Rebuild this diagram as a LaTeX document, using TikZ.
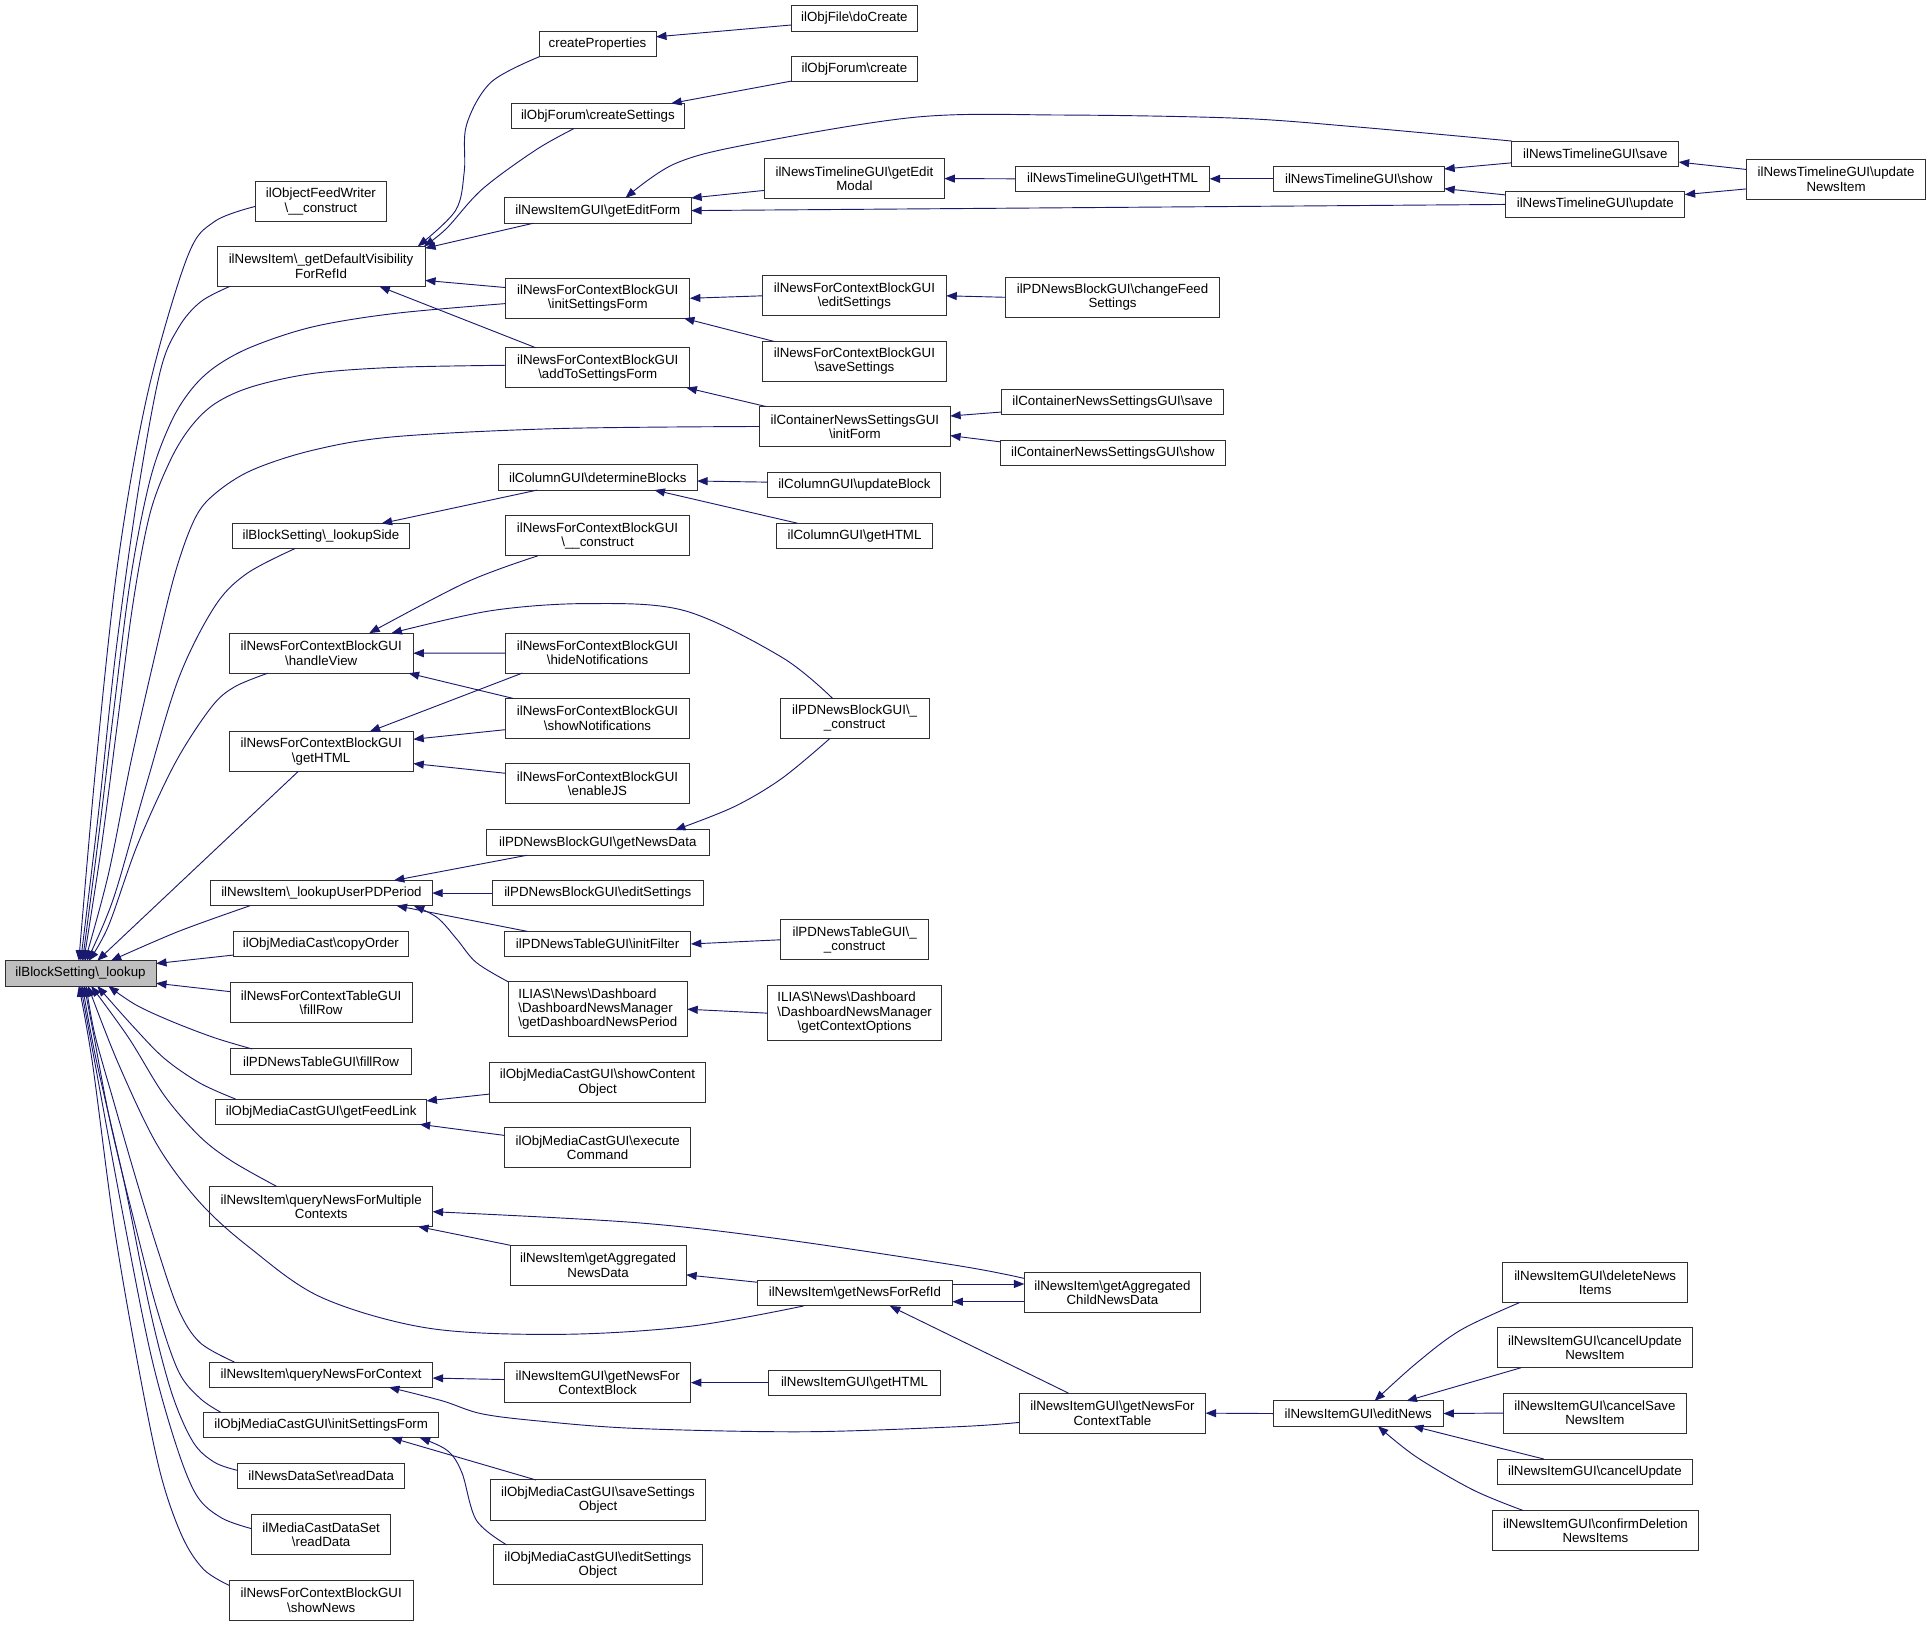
\documentclass[tikz,border=0pt]{standalone}
\usepackage{fontspec}
\newfontfamily\lsans{Liberation Sans}
\usetikzlibrary{arrows.meta}
\definecolor{mblue}{HTML}{191970}
\definecolor{rootgray}{HTML}{BFBFBF}
\definecolor{bordergray}{HTML}{303030}
\newcommand{\BS}{\textbackslash{}}
\begin{document}
\begin{tikzpicture}[x=1pt,y=-1pt,
  nd/.style={draw=bordergray, line width=0.8pt, fill=white, rectangle, inner xsep=1pt, inner ysep=0pt, outer sep=0pt, align=center, font=\lsans\fontsize{10.8}{11.6}\selectfont, text=black},
  La/.style={minimum height=20.5pt},
  Lb/.style={minimum height=32.5pt},
  Lc/.style={minimum height=44.5pt},
  e/.style={draw=mblue, line width=0.75pt, -{Triangle[length=8.5pt,width=6.5pt]}},
  sm/.style={smooth, tension=0.55}]
\useasboundingbox (0,0) rectangle (1568,1320);

% ---- nodes ----
\node[nd,La,minimum width=122.6,fill=rootgray] (root) at (65.4,790.4) {ilBlockSetting\BS\_lookup};

\node[nd,Lb,minimum width=106.5] (n1) at (260.6,163.6) {ilObjectFeedWriter\\\BS\_\_construct};
\node[nd,Lb,minimum width=169] (n2) at (260.7,216.3) {ilNewsItem\BS\_getDefaultVisibility\\ForRefId};
\node[nd,La,minimum width=143.6] (n3) at (260.6,435.3) {ilBlockSetting\BS\_lookupSide};
\node[nd,Lb,minimum width=149.6] (n4) at (260.8,530.4) {ilNewsForContextBlockGUI\\\BS handleView};
\node[nd,Lb,minimum width=149.6] (n5) at (260.8,610.3) {ilNewsForContextBlockGUI\\\BS getHTML};
\node[nd,La,minimum width=180] (n6) at (261,725.2) {ilNewsItem\BS\_lookupUserPDPeriod};
\node[nd,La,minimum width=142] (n7) at (260.6,766.5) {ilObjMediaCast\BS copyOrder};
\node[nd,Lb,minimum width=148] (n8) at (260.8,814.2) {ilNewsForContextTableGUI\\\BS fillRow};
\node[nd,La,minimum width=147] (n9) at (260.7,862) {ilPDNewsTableGUI\BS fillRow};
\node[nd,La,minimum width=171] (n10) at (260.8,902.7) {ilObjMediaCastGUI\BS getFeedLink};
\node[nd,Lb,minimum width=181] (n11) at (260.8,979.7) {ilNewsItem\BS queryNewsForMultiple\\Contexts};
\node[nd,La,minimum width=181] (n12) at (260.8,1116.2) {ilNewsItem\BS queryNewsForContext};
\node[nd,La,minimum width=190.5] (n13) at (260.8,1157.2) {ilObjMediaCastGUI\BS initSettingsForm};
\node[nd,La,minimum width=135.5] (n14) at (260.8,1198.4) {ilNewsDataSet\BS readData};
\node[nd,Lb,minimum width=113] (n15) at (260.8,1246.3) {ilMediaCastDataSet\\\BS readData};
\node[nd,Lb,minimum width=149.6] (n16) at (260.8,1299.3) {ilNewsForContextBlockGUI\\\BS showNews};

\node[nd,La,minimum width=95] (c1) at (485.2,35.5) {createProperties};
\node[nd,La,minimum width=141] (c2) at (485.5,94.2) {ilObjForum\BS createSettings};
\node[nd,La,minimum width=151.5] (c3) at (485.5,171) {ilNewsItemGUI\BS getEditForm};
\node[nd,Lb,minimum width=149.6] (c4) at (485.4,242.2) {ilNewsForContextBlockGUI\\\BS initSettingsForm};
\node[nd,Lb,minimum width=149.6] (c5) at (485.4,298.6) {ilNewsForContextBlockGUI\\\BS addToSettingsForm};
\node[nd,La,minimum width=161.3] (c6) at (485.4,387.7) {ilColumnGUI\BS determineBlocks};
\node[nd,Lb,minimum width=149.6] (c7) at (485.2,435.1) {ilNewsForContextBlockGUI\\\BS\_\_construct};
\node[nd,Lb,minimum width=149.6] (c8) at (485.2,530.3) {ilNewsForContextBlockGUI\\\BS hideNotifications};
\node[nd,Lb,minimum width=149.6] (c9) at (485.2,583.3) {ilNewsForContextBlockGUI\\\BS showNotifications};
\node[nd,Lb,minimum width=149.6] (c10) at (485.2,636.4) {ilNewsForContextBlockGUI\\\BS enableJS};
\node[nd,La,minimum width=180.7] (c11) at (485.4,684.2) {ilPDNewsBlockGUI\BS getNewsData};
\node[nd,La,minimum width=171.3] (c12) at (485.4,725.2) {ilPDNewsBlockGUI\BS editSettings};
\node[nd,La,minimum width=151.4] (c13) at (485.3,766.5) {ilPDNewsTableGUI\BS initFilter};
\node[nd,Lc,minimum width=145.3,align=left] (c14) at (485.4,819.5) {ILIAS\BS News\BS Dashboard\\\BS DashboardNewsManager\\\BS getDashboardNewsPeriod};
\node[nd,Lb,minimum width=175.6] (c15) at (485.2,879.1) {ilObjMediaCastGUI\BS showContent\\Object};
\node[nd,Lb,minimum width=150.7] (c16) at (485.3,932) {ilObjMediaCastGUI\BS execute\\Command};
\node[nd,Lb,minimum width=143] (c17) at (485.7,1027.4) {ilNewsItem\BS getAggregated\\NewsData};
\node[nd,Lb,minimum width=151.4] (c18) at (485.3,1122.7) {ilNewsItemGUI\BS getNewsFor\\ContextBlock};
\node[nd,Lb,minimum width=174.8] (c19) at (485.6,1218) {ilObjMediaCastGUI\BS saveSettings\\Object};
\node[nd,Lb,minimum width=169.3] (c20) at (485.5,1270.7) {ilObjMediaCastGUI\BS editSettings\\Object};

\node[nd,La,minimum width=102.7] (d1) at (693.8,15) {ilObjFile\BS doCreate};
\node[nd,La,minimum width=102] (d2) at (693.8,56.3) {ilObjForum\BS create};
\node[nd,Lb,minimum width=146.1] (d3) at (693.8,145) {ilNewsTimelineGUI\BS getEdit\\Modal};
\node[nd,Lb,minimum width=149.2] (d4) at (693.8,240.2) {ilNewsForContextBlockGUI\\\BS editSettings};
\node[nd,Lb,minimum width=149.2] (d5) at (693.8,293.4) {ilNewsForContextBlockGUI\\\BS saveSettings};
\node[nd,Lb,minimum width=154.7] (d6) at (694.2,346.3) {ilContainerNewsSettingsGUI\\\BS initForm};
\node[nd,La,minimum width=140.5] (d7) at (693.8,394) {ilColumnGUI\BS updateBlock};
\node[nd,La,minimum width=126] (d8) at (693.9,435.1) {ilColumnGUI\BS getHTML};
\node[nd,Lb,minimum width=121] (d9) at (694,583.3) {ilPDNewsBlockGUI\BS\_\\\_construct};
\node[nd,Lb,minimum width=120] (d10) at (694,763.1) {ilPDNewsTableGUI\BS\_\\\_construct};
\node[nd,Lc,minimum width=141.3] (d11) at (694,822.7) {\begin{tabular}{@{}l@{}}ILIAS\BS News\BS Dashboard\\\BS DashboardNewsManager\\\multicolumn{1}{@{}c@{}}{\BS getContextOptions}\end{tabular}};
\node[nd,La,minimum width=158.3] (d12) at (694.2,1050.2) {ilNewsItem\BS getNewsForRefId};
\node[nd,La,minimum width=139] (d13) at (693.9,1122.7) {ilNewsItemGUI\BS getHTML};

\node[nd,La,minimum width=157.7] (e0) at (903.4,145.2) {ilNewsTimelineGUI\BS getHTML};
\node[nd,Lb,minimum width=143] (e1) at (903.3,1049.9) {ilNewsItem\BS getAggregated\\ChildNewsData};
\node[nd,Lb,minimum width=151.3] (e2) at (903.3,1147.5) {ilNewsItemGUI\BS getNewsFor\\ContextTable};
\node[nd,Lb,minimum width=174] (e3) at (903.4,241.4) {ilPDNewsBlockGUI\BS changeFeed\\Settings};
\node[nd,La,minimum width=180.8] (e4) at (903.4,326.6) {ilContainerNewsSettingsGUI\BS save};
\node[nd,La,minimum width=183] (e5) at (903.6,368) {ilContainerNewsSettingsGUI\BS show};

\node[nd,La,minimum width=138.8] (f0) at (1103.3,145.2) {ilNewsTimelineGUI\BS show};
\node[nd,La,minimum width=138.2] (f1) at (1102.9,1147.8) {ilNewsItemGUI\BS editNews};

\node[nd,Lb,minimum width=150] (g1) at (1295.3,1041.5) {ilNewsItemGUI\BS deleteNews\\Items};
\node[nd,Lb,minimum width=159] (g2) at (1295.1,1094.3) {ilNewsItemGUI\BS cancelUpdate\\NewsItem};
\node[nd,Lb,minimum width=148.6] (g3) at (1295.1,1147.4) {ilNewsItemGUI\BS cancelSave\\NewsItem};
\node[nd,La,minimum width=159] (g4) at (1295.1,1195) {ilNewsItemGUI\BS cancelUpdate};
\node[nd,Lb,minimum width=167.3] (g5) at (1295.5,1242.8) {ilNewsItemGUI\BS confirmDeletion\\NewsItems};
\node[nd,La,minimum width=135.4] (g6) at (1295.4,124.8) {ilNewsTimelineGUI\BS save};
\node[nd,La,minimum width=145.2] (g7) at (1295.4,166) {ilNewsTimelineGUI\BS update};
\node[nd,Lb,minimum width=145.6] (h1) at (1490.9,145.6) {ilNewsTimelineGUI\BS update\\NewsItem};

% ---- edges into root (upper bundle) ----
\draw[e] plot[sm] coordinates {([yshift=-4]n1.west) (174,180) (152,209) (120,319) (96,455) (78,620) ([xshift=59.9]root.north west)};
\draw[e] plot[sm] coordinates {([xshift=10.5]n2.south west) (163,245) (145,266) (130,302) (112,400) (94,530) (80,660) ([xshift=61.4]root.north west)};
\draw[e] plot[sm] coordinates {([yshift=-4.3]c4.west) (320.6,254.5) (254.4,265.3) (204.7,281.5) (174.8,297.8) (155,316.7) (138.4,343.8) (121.8,389.8) (106,470) (92,580) (80,680) ([xshift=62.9]root.north west)};
\draw[e] plot[sm] coordinates {([yshift=2]c5.west) (320.6,298.3) (254.4,303.2) (204.7,314) (174.8,327.6) (155,346.5) (138.4,373.6) (121.8,417) (108,490) (95,590) (82,690) ([xshift=63.9]root.north west)};
\draw[e] plot[sm] coordinates {(d6.west) (453,348) (320.6,354.6) (254.4,365.5) (204.7,381.7) (174.8,400.7) (158.3,421) (142,466) (124,540) (106,620) (88,710) ([xshift=64.9]root.north west)};
\draw[e] plot[sm] coordinates {([xshift=50.5]n3.south west) (200,466) (174,493) (145,551) (118,640) (92,730) ([xshift=66.4]root.north west)};
\draw[e] plot[sm] coordinates {([xshift=31.5]n4.south west) (190,558) (171,575) (142,620) (112,685) (88,752) ([xshift=67.9]root.north west)};
\draw[e] ([xshift=56]n5.south west) -- ([xshift=74.9]root.north west);
\draw[e] plot[sm] coordinates {([xshift=32]n6.south west) (145,756.3) ([xshift=85.9]root.north west)};
\draw[e] ([yshift=-9]n7.west) -- ([yshift=8]root.east);
\draw[e] ([yshift=9]n8.west) -- ([yshift=-8]root.east);

% ---- edges into root (lower bundle) ----
\draw[e] plot[sm] coordinates {([xshift=17.5]n9.north west) (174,842.6) (139.2,829.3) (110.2,815.9) ([xshift=83.9]root.south west)};
\draw[e] plot[sm] coordinates {([xshift=16]n10.north west) (162.4,879.5) (133.4,859.4) (107.3,832.6) ([xshift=74.9]root.south west)};
\draw[e] plot[sm] coordinates {([xshift=54.5]n11.north west) (188.5,943) (162.4,923) (133.4,889.5) (104.4,842.6) ([xshift=69.9]root.south west)};
\draw[e] plot[sm] coordinates {([xshift=37.4]d12.south west) (560,1077) (454.7,1083.5) (348,1078.5) (261,1053.5) (203,1013.3) (162.4,976.5) (127.6,929.6) (95.7,862.7) ([xshift=67.4]root.south west)};
\draw[e] plot[sm] coordinates {([xshift=20]n12.north west) (162.4,1090.2) (145,1063.5) (127.6,1013.3) (110.2,956.4) (92.8,896.2) (77,840) ([xshift=65.9]root.south west)};
\draw[e] plot[sm] coordinates {([xshift=14]n13.north west) (162.4,1135.4) (145,1113.7) (127.6,1063.5) (110.2,996.6) (89.9,912.9) (76,840) ([xshift=64.4]root.south west)};
\draw[e] plot[sm] coordinates {([yshift=4.4]n14.west) (174,1187.3) (156.6,1170.6) (139.2,1130.4) (121.8,1063.5) (101.5,963.1) (78,860) ([xshift=62.9]root.south west)};
\draw[e] plot[sm] coordinates {([yshift=5]n15.west) (179.8,1232.5) (159.5,1214) (142.1,1170.6) (121.8,1096.9) (98.6,979.8) (76.5,860) ([xshift=61.4]root.south west)};
\draw[e] plot[sm] coordinates {([yshift=12]n16.west) (165.3,1274.3) (147.9,1247.5) (130.5,1197.3) (113.1,1113.7) (92.8,996.6) (75,862.7) ([xshift=59.9]root.south west)};

% ---- top area ----
\draw[e] plot[sm] coordinates {([xshift=1]c1.south west) (398.8,66.7) (378.8,101.5) (377,139.2) (369.8,171.1) ([xshift=-6]n2.north east)};
\draw[e] plot[sm] coordinates {([xshift=51]c2.south west) (435,121.8) (391.5,153.7) (362.5,185.6) ([xshift=-1]n2.north east)};
\draw[e] ([xshift=23.4]c3.south west) -- ([yshift=-1.5]n2.north east);
\draw[e] ([yshift=8.7]c4.west) -- ([yshift=-11.4]n2.east);
\draw[e] ([xshift=24.4]c5.north west) -- ([xshift=47.4]n2.south);
\draw[e] ([yshift=-5.3]d1.west) -- ([yshift=5.6]c1.east);
\draw[e] ([yshift=-9.5]d2.west) -- ([xshift=-11]c2.north east);
\draw[e] plot[sm] coordinates {(g6.north west) (1101,103) (1005,96) (862,93.4) (744,95.1) (606,117.5) (547,133.4) ([xshift=22.4]c3.north)};
\draw[e] ([yshift=-9.6]d3.west) -- (c3.north east);
\draw[e] (g7.west) -- (c3.east);
\draw[e] (e0.west) -- (d3.east);
\draw[e] (f0.west) -- (e0.east);
\draw[e] ([yshift=-7.4]g6.west) -- ([yshift=8]f0.east);
\draw[e] ([yshift=7.7]g7.west) -- ([yshift=-8]f0.east);
\draw[e] ([yshift=8]h1.west) -- ([yshift=-6.8]g6.east);
\draw[e] ([yshift=-7.8]h1.west) -- ([yshift=8]g7.east);
\draw[e] (d4.west) -- (c4.east);
\draw[e] ([xshift=9]d5.north west) -- ([xshift=70]c4.south);
\draw[e] (e3.west) -- (d4.east);
\draw[e] ([xshift=5]d6.north west) -- ([xshift=72]c5.south);
\draw[e] ([yshift=-8]e4.west) -- ([yshift=8.5]d6.east);
\draw[e] ([yshift=-1]e5.north west) -- ([yshift=-7.4]d6.east);
\draw[e] ([xshift=31.5]c6.south west) -- ([xshift=49.3]n3.north);
\draw[e] ([yshift=2.5]d7.west) -- ([yshift=-2.9]c6.east);
\draw[e] ([xshift=16.6]d8.north west) -- ([xshift=46]c6.south);

% ---- middle area ----
\draw[e] plot[sm] coordinates {([xshift=26.3]c7.south west) (378.9,472.7) ([xshift=39]n4.north)};
\draw[e] plot[sm] coordinates {([xshift=-18]d9.north) (634.7,533.6) (556,495.9) (477.3,490.1) (398.6,495.9) ([xshift=57]n4.north)};
\draw[e] (c8.west) -- (n4.east);
\draw[e] ([xshift=6]c9.north west) -- ([xshift=71]n4.south);
\draw[e] ([xshift=13.7]c8.south west) -- ([xshift=39.4]n5.north);
\draw[e] ([yshift=-9.2]c9.west) -- ([yshift=10]n5.east);
\draw[e] ([yshift=8.5]c10.west) -- ([yshift=-9.7]n5.east);
\draw[e] plot[sm] coordinates {([xshift=-20]d9.south) (634.7,632.2) (595.4,655.4) ([xshift=62.7]c11.north)};
\draw[e] ([xshift=33]c11.south west) -- ([xshift=58.8]n6.north);
\draw[e] (c12.west) -- (n6.east);
\draw[e] ([xshift=18.5]c13.north west) -- ([xshift=61]n6.south);
\draw[e] plot[sm] coordinates {(c14.north west) (386.8,781.6) (371,762.7) (355.3,745.3) ([xshift=75]n6.south)};
\draw[e] (d10.west) -- (c13.east);
\draw[e] (d11.west) -- (c14.east);
\draw[e] ([yshift=-9.3]c15.west) -- ([yshift=-1.5]n10.north east);
\draw[e] ([yshift=10]c16.west) -- ([xshift=80]n10.south);

% ---- lower area ----
\draw[e] plot[sm] coordinates {([yshift=11.8]e1.west) (779.6,1028) (634.7,1006.2) (516.6,992.8) ([yshift=-4.2]n11.east)};
\draw[e] (c17.north west) -- ([xshift=78.7]n11.south);
\draw[e] ([yshift=9]d12.west) -- ([yshift=-7.8]c17.east);
\draw[e] ([yshift=7.6]d12.east) -- ([yshift=7.3]e1.west);
\draw[e] ([yshift=-7.1]e1.west) -- ([yshift=-6.8]d12.east);
\draw[e] ([xshift=40]e2.north west) -- ([xshift=28.4]d12.south);
\draw[e] plot[sm] coordinates {([yshift=-7.5]e2.west) (779.6,1158.4) (652.7,1162.6) (516.6,1159.9) (437.9,1153.9) (390.7,1147.9) (359.2,1137.5) ([xshift=55]n12.south)};
\draw[e] ([yshift=2.5]c18.west) -- ([yshift=-2.8]n12.east);
\draw[e] (d13.west) -- (c18.east);
\draw[e] (f1.west) -- (e2.east);
\draw[e] plot[sm] coordinates {([xshift=13.5]g1.south west) (1186.1,1080) (1149.9,1107.1) ([xshift=13.3]f1.north)};
\draw[e] ([xshift=19.7]g2.south west) -- ([xshift=39.2]f1.north);
\draw[e] (g3.west) -- (f1.east);
\draw[e] ([xshift=38]g4.north west) -- ([xshift=44.4]f1.south);
\draw[e] plot[sm] coordinates {([xshift=25]g5.north west) (1196.5,1210) (1149.9,1182.9) ([xshift=16]f1.south)};
\draw[e] ([xshift=37]c19.north west) -- ([xshift=57]n13.south);
\draw[e] plot[sm] coordinates {([xshift=10.6]c20.north west) (386.8,1234.4) (375,1195.6) (363.1,1177.7) ([xshift=80]n13.south)};
\end{tikzpicture}
\end{document}
